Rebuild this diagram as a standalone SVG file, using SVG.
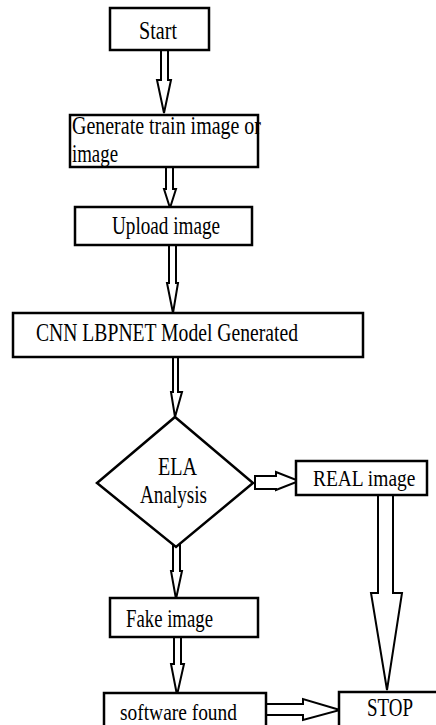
<svg xmlns="http://www.w3.org/2000/svg" width="436" height="725" viewBox="0 0 436 725">
<style>
.box{fill:#fff;stroke:#000;stroke-width:2.5}
.arr{fill:#fff;stroke:#000;stroke-width:2;stroke-linejoin:miter}
text{font-family:"Liberation Serif","Times New Roman",serif;font-size:25px;fill:#000}
</style>
<rect width="436" height="725" fill="#fff"/>
<g id="connectors">
<polygon class="arr" points="161,50 168,50 168,80 171,80 164,113 157,80 161,80"/>
<polygon class="arr" points="166,167 173,167 173,189 176,189 170,208 164,189 166,189"/>
<polygon class="arr" points="169,245 176,245 176,283 178,283 173,313 167,283 169,283"/>
<polygon class="arr" points="173,357 178,357 178,392 182,392 175,417 171,392 173,392"/>
<polygon class="arr" points="173,543 180,543 180,571 182,571 176,599 171,571 173,571"/>
<polygon class="arr" points="174,637 181,637 181,664 184,664 177,695 171,664 174,664"/>
<polygon class="arr" points="255,476 276,476 276,472 299,481 276,490 276,489 255,489"/>
<polygon class="arr" points="378,495 393,495 393,593 402,593 387,690 371,593 378,593"/>
<polygon class="arr" points="266,704 303,704 303,699 340,710 303,720 303,715 266,715"/>
</g>
<g id="start"><rect class="box" x="110" y="8" width="99" height="42"/><text x="139" y="39" textLength="38" lengthAdjust="spacingAndGlyphs">Start</text></g>
<g id="generate"><rect class="box" x="70" y="115" width="188" height="52"/><text x="72" y="134" textLength="189" lengthAdjust="spacingAndGlyphs">Generate train image or</text><text x="72" y="162" textLength="46" lengthAdjust="spacingAndGlyphs">image</text></g>
<g id="upload"><rect class="box" x="75" y="207" width="177" height="38"/><text x="112" y="234" textLength="108" lengthAdjust="spacingAndGlyphs">Upload image</text></g>
<g id="cnn"><rect class="box" x="13" y="313" width="350" height="44"/><text x="36" y="341" textLength="262" lengthAdjust="spacingAndGlyphs">CNN LBPNET Model Generated</text></g>
<g id="ela"><polygon class="box" points="175,417 253,483 176,547 97,483"/><text x="158" y="475" textLength="39" lengthAdjust="spacingAndGlyphs">ELA</text><text x="140" y="503" textLength="67" lengthAdjust="spacingAndGlyphs">Analysis</text></g>
<g id="real"><rect class="box" x="296" y="461" width="131" height="34"/><text transform="translate(313,486) scale(0.81,1)" style="font-size:24px">REAL image</text></g>
<g id="fake"><rect class="box" x="110" y="598" width="148" height="39"/><text x="126" y="627" textLength="87" lengthAdjust="spacingAndGlyphs">Fake image</text></g>
<g id="software"><rect class="box" x="104" y="693" width="162" height="40"/><text x="120" y="720" style="font-size:24px" textLength="117" lengthAdjust="spacingAndGlyphs">software found</text></g>
<g id="stop"><rect class="box" x="339" y="692" width="100" height="40"/><text x="367" y="716" textLength="46" lengthAdjust="spacingAndGlyphs">STOP</text></g>
</svg>
